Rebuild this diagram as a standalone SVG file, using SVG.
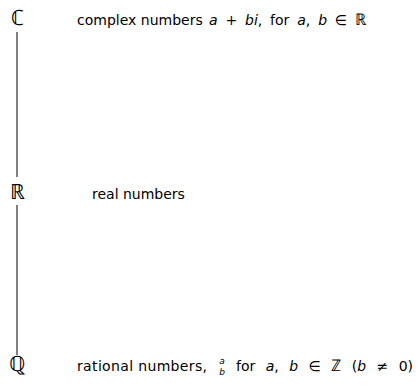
<svg xmlns="http://www.w3.org/2000/svg" width="418" height="387" viewBox="0 0 418 387">
<style>
.t{font-family:"DejaVu Sans",sans-serif;font-size:14px;fill:#000}
.i{font-style:italic}
.bb{font-family:"DejaVu Sans",sans-serif;font-weight:200;font-size:21px;fill:#000}
.ds{font-family:"DejaVu Sans",sans-serif;font-weight:200;font-size:16px}
.s{font-family:"DejaVu Sans",sans-serif;font-size:9px;font-style:italic;fill:#000}
.edge{stroke:#000;stroke-width:1;fill:none}
</style>
<rect width="418" height="387" fill="#fff"/>
<g id="connectors">
<line class="edge" x1="17" y1="32" x2="17" y2="177"/>
<line class="edge" x1="17" y1="205" x2="17" y2="355"/>
</g>
<g id="C">
<text class="bb" x="17" y="25" text-anchor="middle">ℂ</text>
<text class="t" x="77" y="25">complex numbers</text>
<text class="t" x="209" y="25" word-spacing="3.4"><tspan class="i">a</tspan> + <tspan class="i">bi</tspan>, for <tspan class="i">a</tspan>, <tspan class="i">b</tspan> ∈ <tspan class="ds">ℝ</tspan></text>
</g>
<g id="R">
<text class="bb" x="17" y="199" text-anchor="middle">ℝ</text>
<text class="t" x="92" y="199">real numbers</text>
</g>
<g id="Q">
<text class="bb" x="17" y="371" text-anchor="middle">ℚ</text>
<text class="t" x="77" y="371" textLength="130" lengthAdjust="spacing">rational numbers,</text>
<text class="s" x="222" y="364" text-anchor="middle">a</text>
<text class="s" x="222" y="375" text-anchor="middle">b</text>
<text class="t" x="236" y="371" word-spacing="6"><tspan>for</tspan> <tspan class="i">a</tspan>, <tspan class="i">b</tspan> ∈ <tspan class="ds">ℤ</tspan> (<tspan class="i">b</tspan> ≠ 0)</text>
</g>
</svg>
